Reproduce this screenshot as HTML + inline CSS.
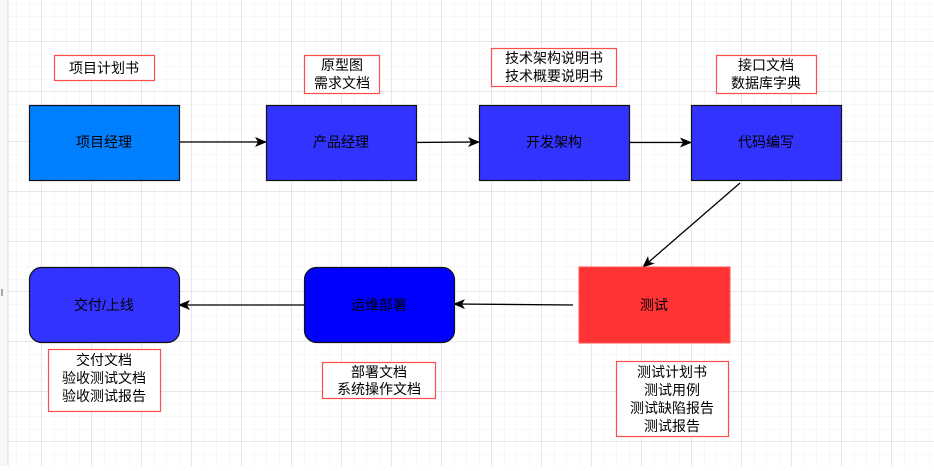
<!DOCTYPE html>
<html><head><meta charset="utf-8"><style>
html,body{margin:0;padding:0;background:#fff;}
svg text{font-family:"Liberation Sans","Noto Sans CJK SC",sans-serif;font-size:14px;fill:#000;}
</style></head><body>
<svg width="934" height="466" xmlns="http://www.w3.org/2000/svg">
<defs>
<pattern id="minor" x="4.5" y="4.5" width="12.5" height="12.5" patternUnits="userSpaceOnUse">
<path d="M12.5 0 V12.5 M0 12.5 H12.5" stroke="#efefef" stroke-width="1" fill="none"/>
</pattern>
<pattern id="major" x="-8.5" y="-8.5" width="50" height="50" patternUnits="userSpaceOnUse">
<path d="M50 0 V50 M0 50 H50" stroke="#dcdcdc" stroke-width="1" fill="none"/>
</pattern>
<marker id="ah" markerWidth="12" markerHeight="10" refX="11" refY="5" orient="auto" markerUnits="userSpaceOnUse">
<path d="M0 0 L12 5 L0 10 L3 5 Z" fill="#000"/>
</marker>
</defs>
<rect width="934" height="466" fill="#fff"/>
<rect x="8" y="0" width="926" height="466" fill="url(#minor)"/>
<rect x="8" y="0" width="926" height="466" fill="url(#major)"/>
<rect x="0" y="0" width="8" height="466" fill="#f7f7f7"/>
<line x1="8" y1="0" x2="8" y2="466" stroke="#dcdcdc"/>
<line x1="2" y1="289" x2="2" y2="296" stroke="#555"/>

<!-- connectors -->
<g stroke="#000" stroke-width="1.3" fill="none">
<line x1="179" y1="142" x2="266" y2="142" marker-end="url(#ah)"/>
<line x1="416" y1="142.5" x2="479" y2="142" marker-end="url(#ah)"/>
<line x1="629" y1="142.5" x2="691" y2="142.5" marker-end="url(#ah)"/>
<line x1="740" y1="183" x2="643" y2="267" marker-end="url(#ah)"/>
<line x1="573" y1="305" x2="454" y2="304" marker-end="url(#ah)"/>
<line x1="304" y1="305" x2="179" y2="305" marker-end="url(#ah)"/>
</g>

<!-- nodes -->
<g stroke="#111" stroke-width="1.2">
<rect x="29.5" y="105.5" width="150" height="75" fill="#007FFF"/>
<rect x="266.5" y="105.5" width="150" height="75" fill="#3333FF"/>
<rect x="479.5" y="105.5" width="150" height="75" fill="#3333FF"/>
<rect x="691.5" y="105.5" width="150" height="75" fill="#3333FF"/>
<rect x="29.5" y="267.5" width="150" height="75" rx="12" fill="#3333FF"/>
<rect x="304.5" y="267.5" width="150" height="75" rx="12" fill="#0000FF"/>
</g>
<rect x="579" y="267" width="151" height="76" fill="#FF3333" stroke="#ff5555"/>

<g text-anchor="middle">
<text x="104" y="147">项目经理</text>
<text x="341" y="147">产品经理</text>
<text x="554" y="147">开发架构</text>
<text x="766" y="147">代码编写</text>
<text x="104" y="310">交付/上线</text>
<text x="379" y="310">运维部署</text>
<text x="654" y="310">测试</text>
</g>

<!-- annotation boxes -->
<g fill="#fff" stroke="#ff4d4d" stroke-width="1.2">
<rect x="54.5" y="55.5" width="100" height="25"/>
<rect x="304.5" y="55.5" width="75" height="38"/>
<rect x="491.5" y="48.5" width="125" height="38"/>
<rect x="716.5" y="55.5" width="100" height="38"/>
<rect x="48.5" y="349.5" width="112" height="62"/>
<rect x="322.5" y="362.5" width="113" height="36"/>
<rect x="616.5" y="361.5" width="112" height="75"/>
</g>
<g text-anchor="middle">
<text x="104" y="73">项目计划书</text>
<text x="342" y="70">原型图</text>
<text x="342" y="88">需求文档</text>
<text x="554" y="63">技术架构说明书</text>
<text x="554" y="81">技术概要说明书</text>
<text x="766" y="70">接口文档</text>
<text x="766" y="88">数据库字典</text>
<text x="104" y="365">交付文档</text>
<text x="104" y="383">验收测试文档</text>
<text x="104" y="401">验收测试报告</text>
<text x="379" y="377">部署文档</text>
<text x="379" y="394">系统操作文档</text>
<text x="672" y="377">测试计划书</text>
<text x="672" y="395">测试用例</text>
<text x="672" y="413">测试缺陷报告</text>
<text x="672" y="431">测试报告</text>
</g>
</svg>
</body></html>
